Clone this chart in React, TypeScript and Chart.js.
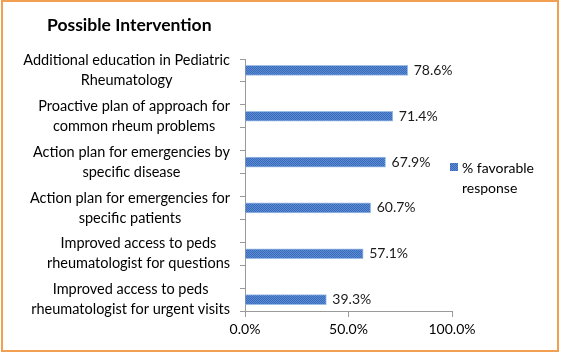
import React, { useEffect, useRef } from "react";
import { Chart, registerables } from "chart.js";
Chart.register(...registerables);

const chartTitle = "Possible Intervention";
const categories: string[][] = [
  ["Additional education in Pediatric", "Rheumatology"],
  ["Proactive plan of approach for", "common rheum problems"],
  ["Action plan for emergencies by", "specific disease"],
  ["Action plan for emergencies for", "specific patients"],
  ["Improved access to peds", "rheumatologist for questions"],
  ["Improved access to peds", "rheumatologist for urgent visits"],
];
const values = [78.6, 71.4, 67.9, 60.7, 57.1, 39.3];
const xTickValues = [0, 50, 100];
const seriesLabel = ["% favorable", "response"];

const FONT = "Lato, 'Open Sans', sans-serif";
const AXIS = "#9a9a9a";

export default function App() {
  const ref = useRef<HTMLCanvasElement | null>(null);
  useEffect(() => {
    const canvas = ref.current!;
    const pc = document.createElement("canvas");
    pc.width = 2;
    pc.height = 2;
    const pctx = pc.getContext("2d")!;
    pctx.fillStyle = "#5b8dd6";
    pctx.fillRect(0, 0, 2, 2);
    pctx.fillStyle = "#3a69b8";
    pctx.fillRect(0, 0, 1, 1);
    pctx.fillRect(1, 1, 1, 1);
    const pattern = canvas.getContext("2d")!.createPattern(pc, "repeat")!;

    const n = categories.length;
    const yMin = -0.25;
    const yMax = n - 0.75;
    const yTicks: number[] = [];
    for (let k = 0; k <= 2 * n - 1; k++) yTicks.push(yMin + k * 0.5);

    const decor = {
      id: "decor",
      beforeDraw(chart: any) {
        const c = chart.ctx;
        c.save();
        c.fillStyle = "#ffffff";
        c.fillRect(0, 0, chart.width, chart.height);
        c.restore();
      },
      afterDraw(chart: any) {
        const c = chart.ctx;
        const xs = chart.scales.x;
        const ys = chart.scales.y;
        c.save();
        c.fillStyle = "#000";
        c.textBaseline = "middle";
        c.font = `14.5px ${FONT}`;
        c.textAlign = "center";
        categories.forEach((lines, i) => {
          const cy = ys.getPixelForValue(i);
          const maxW = Math.max(...lines.map((l) => c.measureText(l).width));
          const cx = xs.left - 15 - maxW / 2;
          lines.forEach((l, j) => {
            c.fillText(l, cx, cy + (j - (lines.length - 1) / 2) * 20);
          });
        });
        c.textAlign = "left";
        c.fillStyle = "#1a1a1a";
        c.font = `14px ${FONT}`;
        values.forEach((v, i) => {
          c.fillText(v.toFixed(1) + "%", xs.getPixelForValue(v) + 6, ys.getPixelForValue(i));
        });
        // title
        c.fillStyle = "#000";
        c.font = `bold 17.5px ${FONT}`;
        c.fillText(chartTitle, 47, 25);
        // legend
        c.fillStyle = pattern;
        c.fillRect(450, 163, 8, 8);
        c.font = `14px ${FONT}`;
        c.fillStyle = "#000";
        seriesLabel.forEach((l, j) => c.fillText(l, 462, 168 + j * 20));
        // border
        c.strokeStyle = "#f0a050";
        c.lineWidth = 2;
        c.strokeRect(2, 1, 556, 350);
        c.restore();
      },
    };

    const chart = new Chart(canvas, {
      type: "bar",
      data: {
        datasets: [
          {
            label: seriesLabel.join(" "),
            data: values.map((v, i) => ({ x: v, y: i })),
            backgroundColor: pattern,
            borderColor: "#9cbde6",
            borderWidth: 1,
            barThickness: 10,
          },
        ],
      },
      options: {
        indexAxis: "y",
        responsive: false,
        animation: false,
        layout: { padding: { top: 59, right: 110, left: 0, bottom: 0 } },
        plugins: {
          legend: { display: false },
          title: { display: false },
          tooltip: { enabled: false },
        },
        scales: {
          y: {
            type: "linear",
            reverse: true,
            offset: false,
            min: yMin,
            max: yMax,
            afterBuildTicks: (s: any) => {
              s.ticks = yTicks.map((v) => ({ value: v }));
              s.min = yMin;
              s.max = yMax;
            },
            afterFit: (s: any) => {
              s.width = 245;
            },
            ticks: { display: false },
            grid: { drawOnChartArea: false, offset: false, tickLength: 5, color: AXIS },
            border: { color: AXIS },
          },
          x: {
            type: "linear",
            min: 0,
            max: 100,
            afterBuildTicks: (s: any) => {
              s.ticks = xTickValues.map((v) => ({ value: v }));
              s.min = 0;
              s.max = 100;
            },
            afterFit: (s: any) => {
              s.height = 43;
            },
            ticks: {
              callback: (v: any) => Number(v).toFixed(1) + "%",
              font: { family: FONT, size: 14 },
              color: "#000",
              padding: 4,
              maxRotation: 0,
            },
            grid: { drawOnChartArea: false, tickLength: 6, color: AXIS },
            border: { color: AXIS },
          },
        },
      },
      plugins: [decor],
    } as any);
    return () => chart.destroy();
  }, []);
  return (
    <div style={{ position: "fixed", left: 0, top: 0, width: 562, height: 354 }}>
      <canvas ref={ref} width={562} height={354} />
    </div>
  );
}
